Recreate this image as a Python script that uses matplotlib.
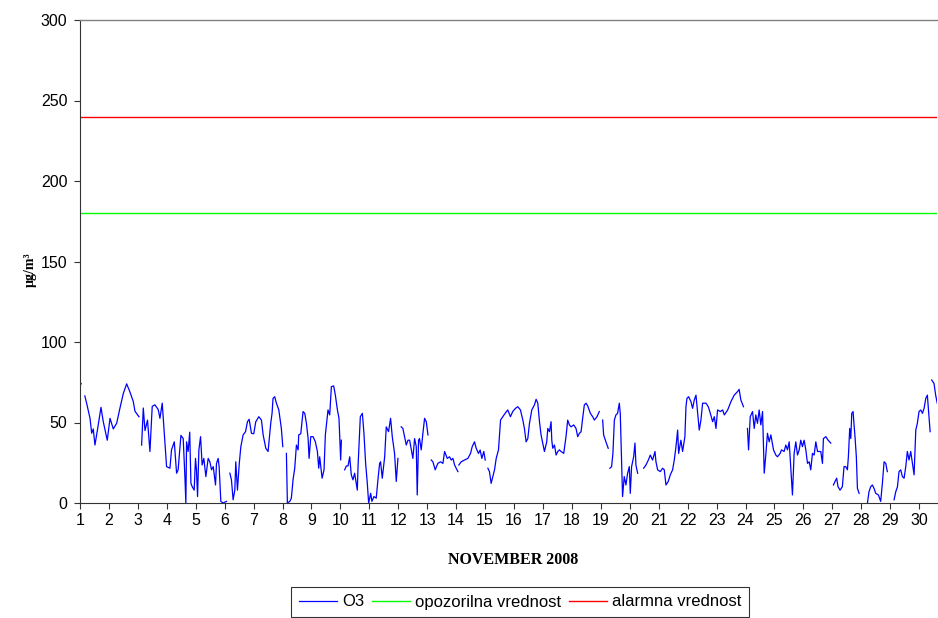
import numpy as np
import matplotlib
matplotlib.use("Agg")
import matplotlib.pyplot as plt

nan = np.nan

# Hours since 1 Nov 00:00 and O3 concentrations (µg/m³); nan = missing data
hours = [0, 1, 2,
 4, 5.5, 8.3, 9.7, 11, 12.4, 14.6, 16.6, 17.4, 19.3, 22.6, 24.9, 27.6, 30.4, 33.1, 35.9, 38.7, 41.4, 44.2, 45.6, 48.9, 50,
 51.1, 52.5, 53.9, 56, 58, 59.9, 62.1, 64.9, 66.3, 68.2, 69.9, 71.8, 74.6, 75.9, 78.2, 80.1, 81.4, 83.7, 85.6, 87, 87.8,
 88.4, 89.7, 91, 92, 93.1, 94.7, 95.8, 96.6, 97.5, 98.6, 100, 101.3, 102.7, 104.4, 106.3, 107.7, 109.1, 110.5, 112.4, 113.2,
 114.6, 115.4, 116.8, 118.7, 121.5, 123,
 124.3, 125.6, 127, 128.4, 129.2, 130.6, 132, 133.4, 135.3, 137.3, 138.9, 140.3, 142.2, 144.1, 145.8, 148.3, 150.5, 151.9,
 154.1, 156, 158.2, 159.3, 160.1, 161.5, 162.9, 164.9, 167, 168.2, 169.5,
 171.2, 172, 174, 175.3, 176.7, 178.1, 179.5, 180.9, 181.4, 183.1, 185, 186.4, 187.8, 189.2, 190, 191.4, 193.3, 195.2,
 196.9, 198, 198.8, 200.8, 202.4, 203.5, 205.7, 207.1, 208.5, 210.4, 211.8, 213.5, 214.8, 216.2, 216.8, 217.8,
 219.5, 220.9, 222.3, 223.7, 225, 226.4, 227.8, 230, 230.6, 232.5, 234.2, 235.5, 236.9, 238.3, 239.4, 241.1, 242.1, 243.8,
 245.7, 247.1, 248.5, 249.3, 250.7, 252.7, 254, 255.9, 257.6, 259, 260.9, 262.3, 263.7, 265,
 266.4, 267.8, 270.6, 272, 273.4, 274.8, 276.1, 277.5, 278.9, 279.7, 280.8, 281.6, 283, 284.4, 285.8, 287.2, 288.6, 290,
 291.3, 292.7, 294.6, 296.8, 299, 301, 302.4, 304.6, 306.5, 307.9, 309.3, 310.7, 313.4, 313.8,
 314.2, 316.2, 318.9, 321.7, 323.9, 325.3, 327.2, 328.6, 330.5, 331.9, 333.3, 334.9, 336.1, 337.2,
 338.3, 339.6, 341, 342.4, 343.8, 345.2, 347.1, 348.8, 350.7, 352.6, 354.8, 357, 358.9, 361.2, 363.1,
 365.3, 367.3, 368.6, 370, 371.4, 372.8, 374.7, 376.9, 378.3, 379.7, 381.1, 382.4, 383.8, 385.2, 387.1, 388, 389.4, 390.7,
 391.3, 392.1, 393.5, 394.9, 396.3, 397.6, 399, 401.2, 403.1, 404.5, 405.9, 407.3, 409.5, 411.4, 412.8, 414.2, 415.6,
 416.9, 418.3, 419.7, 421.1, 423.3, 425.2, 426.6, 428.8, 430.7, 432,
 433.5, 434.3, 436.2, 438.1, 438.9,
 439.5, 440.9, 442, 443.2, 444.5, 445.9, 447.3, 448.1, 449.2, 450, 451.4, 452.8, 454.2, 455.6, 456.4, 457.5, 459.2,
 460.3, 461.1, 462.5, 464,
 467.5, 469.4, 471.4, 473, 474.9, 476.9, 477.7, 479.1, 481.3, 483.2, 484.6, 486, 487.9, 489.6, 491.5, 492.9, 494.3,
 495.7, 496.5, 498.4, 499.8, 501.7, 502.6, 503.4, 504.8, 506.7, 508.1, 509.5, 510.9, 512.3, 513.6, 515, 516.4, 519.2,
 521.1, 522.8, 524.7, 526.1, 527.5, 528.8, 531.1, 533, 534.4, 537.2, 539.9, 542.6, 545.4, 546.7, 548.1, 550.3, 551.5,
 553.6, 554.5, 555.9, 557.8, 559.2, 560.5, 561.9, 563.3, 564.7, 566.1, 567.5, 568.8, 570.2, 571.6, 573, 575.2, 577.1,
 578.5, 580.7, 581.8, 584, 585.4, 586.8, 588.2, 589.5, 590.9, 592.3, 593.7, 595.1, 596.5, 597.8, 599.2, 600.6, 602,
 603.4, 604.8, 606.1, 607.5, 608.9, 610.3, 611.7, 613.1, 614.4, 615.8, 616.6, 618.6, 620.5, 622.7, 623.8,
 624.9, 626.2, 627.6, 628.7, 630.4, 632.3, 633.7, 635.1, 636.5, 637.3, 638.4, 639.3, 640.1, 641.2, 642, 642.8, 643.9,
 644.8, 646.2, 648,
 653.1, 654.4, 655.8, 657.2, 658.6, 660, 662.2, 664.1, 665.5, 666.9, 668.3, 669.6, 671,
 675.2, 676.6, 678, 679.3, 680.7, 682.1, 683.5, 684.9, 686.2, 687.6, 689, 690.4, 691.8, 693.2, 694.5, 695.9, 697.3,
 698.7, 700.1, 701.5, 702.8, 704.2, 705.1, 705.6,
 706.4, 708.3, 709.7, 711]

o3 = [75, 74, nan,
 66.5, 62, 52.6, 43.3, 46, 36, 46, 55.7, 59.4, 50.5, 39, 52.6, 46, 49.5, 58.8, 68, 74, 69, 63, 57, 53.6, nan,
 36, 59, 45, 51.5, 32, 60, 61, 58, 52.6, 62, 43, 22.6, 21.6, 33, 38, 18.5, 20.6, 42, 40, 16.4, 0,
 38, 32, 44, 12.2, 10.1, 8, 27.7, 20.6, 4, 33, 41.2, 23.6, 27.7, 16.4, 27.7, 25.6, 20.6, 22.6, 11.2, 24.6,
 27.7, 22.6, 1, 0, 1, nan,
 18.5, 14.4, 2, 8, 25.6, 8, 23.6, 35, 42.3, 44.3, 50.5, 52, 43.3, 43, 50.5, 53.6, 51.5, 42.3,
 34, 32, 49.5, 55.7, 65, 66, 62, 57.8, 46.3, 35, nan,
 30.8, 0, 1, 3, 14.4, 21.6, 36, 33, 42.3, 43, 56.8, 55.7, 49.5, 40, 27.7, 41.2, 41.2, 38,
 32, 21.6, 28.7, 15.4, 20.6, 42.3, 57.8, 54.7, 72.3, 72.7, 67, 57.8, 52.6, 26.7, 39, nan,
 20.6, 23, 23, 28.7, 17.5, 14.4, 18.5, 8, 22.6, 53.6, 55.7, 43.3, 24.6, 12.2, 0, 6, 1, 4,
 3, 14.4, 24.6, 25.6, 15.4, 28.7, 47.3, 44.3, 52.6, 41.2, 30.8, 13.4, 27.7, nan,
 47.3, 46.3, 36, 39, 39, 33, 27.7, 40, 35, 5, 39, 40, 33, 43.3, 52.6, 50.5, 42.3, nan,
 26.7, 25.6, 20.6, 24.6, 25.6, 24.6, 32, 27.7, 28.7, 26.7, 27.7, 23.6, 19.5, nan,
 23.6, 25.6, 26.7, 27.7, 30.8, 35, 38, 34, 30.8, 32.9, 27.7, 32, 26.7, nan,
 21.6, 19.5, 12.2, 16.4, 20.6, 27.7, 33, 51.5, 53.6, 55.7, 57.8, 53.6, 56.8, 58.8, 59.8,
 57.8, 51.5, 46.3, 38, 40, 49.5, 57.8, 60.9, 64.4, 62, 50.5, 42.3, 37.2, 32, 38, 46.3, 44.3, 50.5,
 39, 34, 36, 29.8, 32, 33, 32, 30.8, 41.2, 51.5, 48.5, 47.3, 48.5, 46.3, 41.2, 43.3, 44.3,
 52.6, 60.9, 62, 60.3, 55.7, 53.6, 51.5, 53.6, 56.8, nan,
 51.5, 42.3, 38, 34, nan,
 21.6, 22.6, 30.8, 51.5, 54.7, 55.7, 62, 55.7, 26.7, 4, 16.4, 11.2, 18.5, 22.6, 6, 22.6, 28.7,
 37.2, 23.6, 18.5, nan,
 21.6, 23.6, 26.7, 29.8, 26.7, 32, 25.6, 20.6, 19.5, 21.6, 20.6, 11.2, 13.4, 17.5, 20.6, 26.7, 35,
 45.3, 30.8, 39, 32, 41.2, 59.8, 65, 66, 63, 58.8, 64, 67, 55.7, 45.3, 51.5, 62, 62,
 59.8, 55.7, 50.5, 53.6, 46.3, 57.8, 56.8, 57.8, 54.7, 57.8, 63, 67, 69.2, 70.6, 64, 59.8, nan,
 46.3, 33, 53.6, 56.8, 46.3, 54.7, 49.5, 57.8, 48.5, 56.8, 18.5, 29.8, 43.3, 38, 42.3, 33, 29.8,
 28.7, 30.8, 33, 32, 36, 33, 38, 22.6, 5, 30.8, 38, 29.8, 33, 39, 35, 39, 33,
 24.6, 25.6, 20.6, 30.8, 29.8, 38, 32, 32, 32, 24.6, 40, 41.2, 39, 37.2, nan,
 11.2, 13.4, 15.4, 10.1, 8, 10.1, 22.6, 22.6, 20.6, 28.7, 46.3, 40, 55.7, 56.8, 48.5, 41.2, 28.7,
 9.1, 6, nan,
 0, 7, 10.1, 11.2, 9, 6, 5, 1, 12.2, 25.6, 24.6, 19.5, nan,
 2, 7, 10.1, 19.5, 20.6, 16.4, 15.4, 22.6, 32, 26.7, 32, 24.6, 17.5, 45.3, 49.5, 56.8, 57.8,
 55.7, 58.8, 65, 67, 53.6, 44.3, nan,
 76.4, 74.3, 67, 62]

warning_value = 180   # opozorilna vrednost
alarm_value = 240     # alarmna vrednost
day_labels = [str(d) for d in range(1, 31)]

days = 1 + np.array(hours, dtype=float) / 24.0
vals = np.array(o3, dtype=float)

plt.rcParams['font.family'] = ['Liberation Sans', 'DejaVu Sans']

fig = plt.figure(figsize=(9.38, 6.18), dpi=100)
ax = fig.add_axes([80/938, 1 - 503/618, 857/938, 483/618])

xmin, xmax = 1, 1 + 710.8 / 24
ax.plot(days, vals, color='#0000ff', lw=0.9, label='O3')
ax.plot([xmin, xmax], [warning_value, warning_value], color='#00ff00', lw=1.0,
        label='opozorilna vrednost')
ax.plot([xmin, xmax], [alarm_value, alarm_value], color='#ff0000', lw=1.0,
        label='alarmna vrednost')

ax.set_xlim(xmin, xmax)
ax.set_ylim(0, 300)
ax.set_yticks([0, 50, 100, 150, 200, 250, 300])
ax.set_xticks(np.arange(1, 31))
ax.set_xticklabels(day_labels)
ax.tick_params(axis='both', labelsize=11.5, length=4, width=0.8, color='#333333', direction='out')
ax.tick_params(axis='x', pad=3)
ax.tick_params(axis='y', pad=5)

ax.spines['right'].set_visible(False)
ax.spines['top'].set_color('#808080')
ax.spines['top'].set_linewidth(1.0)
ax.spines['left'].set_color('#333333')
ax.spines['bottom'].set_color('#333333')

ax.set_ylabel('µg/m³', family=['Liberation Serif', 'DejaVu Serif'], fontweight='bold', fontsize=10)
ax.yaxis.set_label_coords((37 - 80) / 857, (503 - 270) / 483)
ax.set_xlabel('NOVEMBER 2008', family=['Liberation Serif', 'DejaVu Serif'], fontweight='bold', fontsize=11.5)
ax.xaxis.set_label_coords((513 - 80) / 857, (503 - 560) / 483)
ax.xaxis.label.set_va('center')

leg = fig.legend(loc='lower center', bbox_to_anchor=(520/938, 1/618), ncol=3, frameon=True,
                 fancybox=False, edgecolor='black', fontsize=12, handlelength=2.3,
                 handletextpad=0.3, columnspacing=0.45, borderpad=0.45, borderaxespad=0)
leg.get_frame().set_linewidth(0.8)

fig.savefig('out.png', dpi=100)
